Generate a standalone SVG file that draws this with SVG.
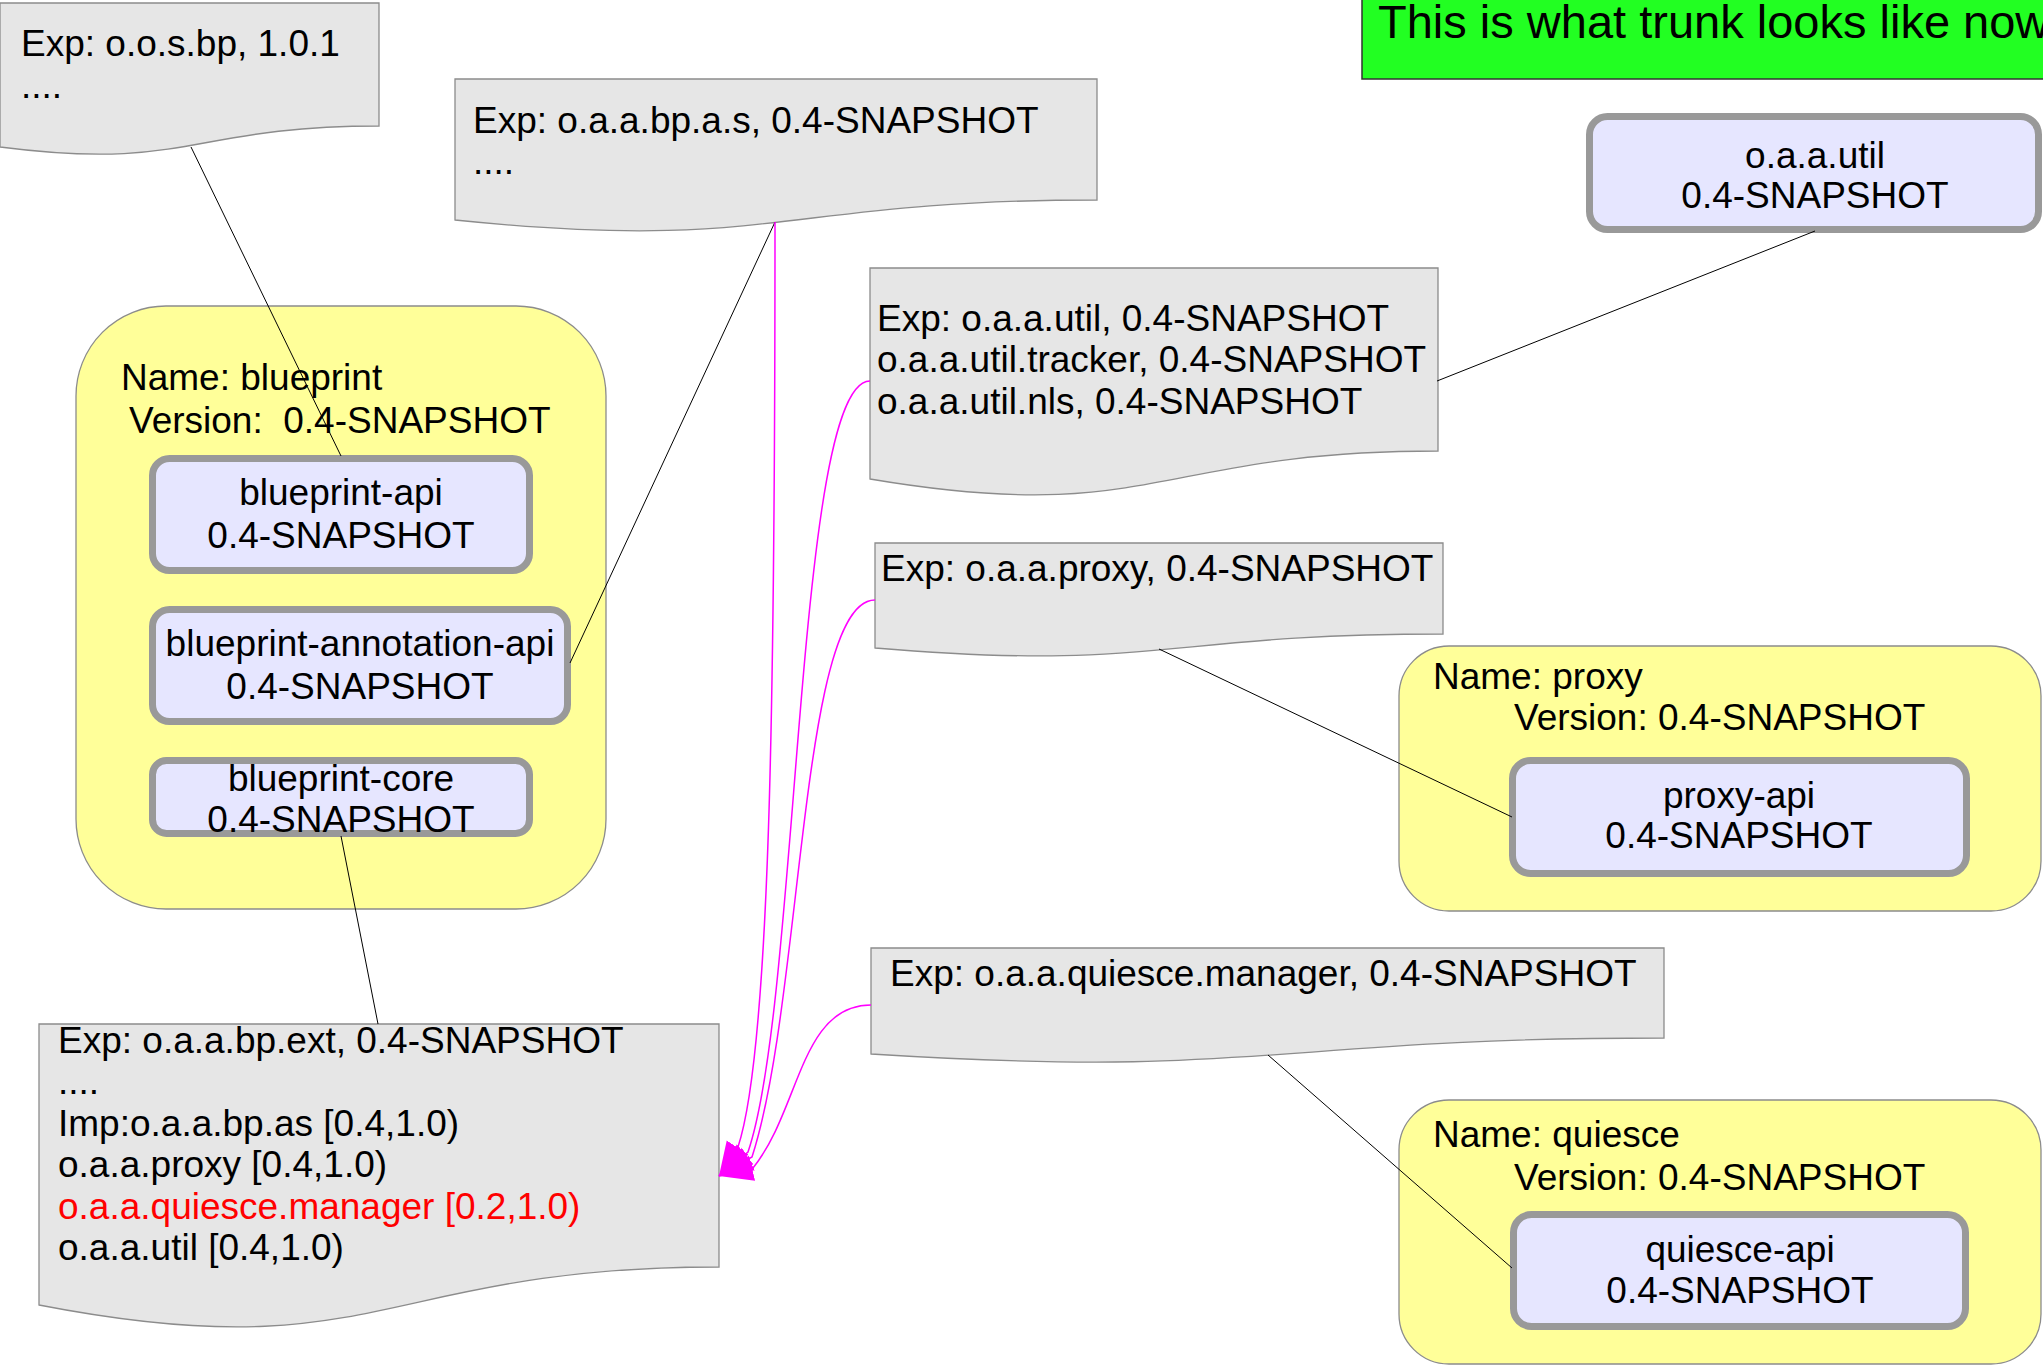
<svg xmlns="http://www.w3.org/2000/svg" width="2043" height="1366" viewBox="0 0 2043 1366">
<style>
text{font-family:"Liberation Sans",Arial,sans-serif;font-size:37px;fill:#000}
.c{text-anchor:middle}
.red{fill:#ff0000}
.doc{fill:#e6e6e6;stroke:#8c8c8c;stroke-width:1.3}
.pkg{fill:#ffff99;stroke:#8c8c8c;stroke-width:1.3}
.bundle{fill:#e6e6ff;stroke:#999999;stroke-width:7}
.link{fill:none;stroke:#000;stroke-width:1}
.imp{fill:none;stroke:#ff00ff;stroke-width:1.5;marker-end:url(#ah)}
</style>
<defs>
<marker id="ah" markerUnits="userSpaceOnUse" viewBox="0 0 36 28" markerWidth="36" markerHeight="28" refX="34" refY="13" orient="auto">
<path d="M0,0 L34,13 L0,26 Z" fill="#ff00ff"/>
</marker>
</defs>

<g id="title">
<rect x="1362" y="-5" width="700" height="84" fill="#22ff22" stroke="#333" stroke-width="1.5"/>
<text x="1378" y="38" style="font-size:47px">This is what trunk looks like now</text>
</g>

<g id="exp-oosbp">
<path class="doc" d="M0,3 H379 V126 C189.5,126 189.5,171.4 0,147 Z"/>
<text x="21" y="56">Exp: o.o.s.bp, 1.0.1</text>
<text x="21" y="98">....</text>
</g>

<g id="exp-bp-as">
<path class="doc" d="M455,79 H1097 V200 C776,200 776,253 455,220 Z"/>
<text x="473" y="133">Exp: o.a.a.bp.a.s, 0.4-SNAPSHOT</text>
<text x="473" y="174">....</text>
</g>

<g id="util-bundle">
<rect class="bundle" x="1589.5" y="116.5" width="449" height="113" rx="18"/>
<text class="c" x="1815" y="168">o.a.a.util</text>
<text class="c" x="1815" y="208">0.4-SNAPSHOT</text>
</g>

<g id="exp-util">
<path class="doc" d="M870,268 H1438 V451 C1154,451 1154,527 870,479 Z"/>
<text x="877" y="331">Exp: o.a.a.util, 0.4-SNAPSHOT</text>
<text x="877" y="372">o.a.a.util.tracker, 0.4-SNAPSHOT</text>
<text x="877" y="414">o.a.a.util.nls, 0.4-SNAPSHOT</text>
</g>

<g id="exp-proxy">
<path class="doc" d="M875,543 H1443 V634 C1159,634 1159,672 875,648 Z"/>
<text x="881" y="581">Exp: o.a.a.proxy, 0.4-SNAPSHOT</text>
</g>

<g id="exp-quiesce">
<path class="doc" d="M871,948 H1664 V1038 C1267.5,1038 1267.5,1079 871,1054 Z"/>
<text x="890" y="986">Exp: o.a.a.quiesce.manager, 0.4-SNAPSHOT</text>
</g>

<g id="blueprint">
<rect class="pkg" x="76" y="306" width="530" height="603" rx="90"/>
<text x="121" y="390">Name: blueprint</text>
<text x="129" y="433" xml:space="preserve">Version:  0.4-SNAPSHOT</text>
</g>

<g id="blueprint-api">
<rect class="bundle" x="152.5" y="458.5" width="377" height="112" rx="17"/>
<text class="c" x="341" y="505">blueprint-api</text>
<text class="c" x="341" y="548">0.4-SNAPSHOT</text>
</g>

<g id="blueprint-annotation-api">
<rect class="bundle" x="152.5" y="609.5" width="415" height="112" rx="17"/>
<text class="c" x="360" y="656">blueprint-annotation-api</text>
<text class="c" x="360" y="699">0.4-SNAPSHOT</text>
</g>

<g id="blueprint-core">
<rect class="bundle" x="152.5" y="760.5" width="377" height="73" rx="14"/>
<text class="c" x="341" y="791">blueprint-core</text>
<text class="c" x="341" y="832">0.4-SNAPSHOT</text>
</g>

<g id="proxy">
<rect class="pkg" x="1399" y="646" width="642" height="265" rx="50"/>
<text x="1433" y="689">Name: proxy</text>
<text x="1514" y="730">Version: 0.4-SNAPSHOT</text>
</g>

<g id="proxy-api">
<rect class="bundle" x="1512.5" y="760.5" width="454" height="113" rx="18"/>
<text class="c" x="1739" y="808">proxy-api</text>
<text class="c" x="1739" y="848">0.4-SNAPSHOT</text>
</g>

<g id="quiesce">
<rect class="pkg" x="1399" y="1100" width="642" height="264" rx="50"/>
<text x="1433" y="1147">Name: quiesce</text>
<text x="1514" y="1190">Version: 0.4-SNAPSHOT</text>
</g>

<g id="quiesce-api">
<rect class="bundle" x="1513.5" y="1214.5" width="452" height="112" rx="18"/>
<text class="c" x="1740" y="1262">quiesce-api</text>
<text class="c" x="1740" y="1303">0.4-SNAPSHOT</text>
</g>

<g id="exp-bp-ext">
<path class="doc" d="M39,1024 H719 V1267 C379,1267 379,1371 39,1305 Z"/>
<text x="58" y="1053">Exp: o.a.a.bp.ext, 0.4-SNAPSHOT</text>
<text x="58" y="1094">....</text>
<text x="58" y="1136">Imp:o.a.a.bp.as [0.4,1.0)</text>
<text x="58" y="1177">o.a.a.proxy [0.4,1.0)</text>
<text x="58" y="1219" class="red">o.a.a.quiesce.manager [0.2,1.0)</text>
<text x="58" y="1260">o.a.a.util [0.4,1.0)</text>
</g>

<g id="connectors">
<line class="link" x1="191" y1="147" x2="341" y2="456"/>
<line class="link" x1="775" y1="222" x2="570" y2="663"/>
<line class="link" x1="341" y1="836" x2="378" y2="1024"/>
<line class="link" x1="1437" y1="381" x2="1815" y2="231"/>
<line class="link" x1="1159" y1="649" x2="1512" y2="817"/>
<line class="link" x1="1268" y1="1055" x2="1512" y2="1268"/>
<path class="imp" d="M775,222 C775,700 770,1050 738,1147 L719,1176"/>
<path class="imp" d="M870,381 C795,381 800,1000 748,1152 L719,1176"/>
<path class="imp" d="M875,600 C800,600 803,1000 752,1157 L719,1176"/>
<path class="imp" d="M871,1005 C800,1005 800,1110 753,1168 L719,1176"/>
</g>
</svg>
